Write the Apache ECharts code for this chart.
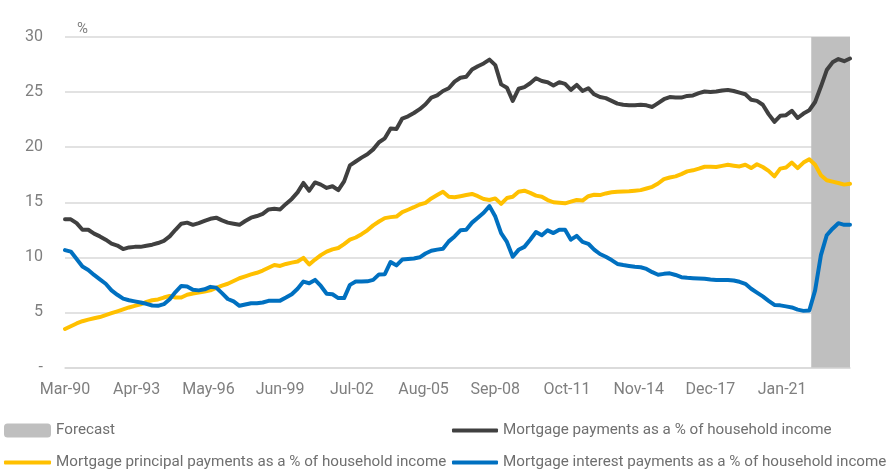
<!DOCTYPE html>
<html>
<head>
<meta charset="utf-8">
<script src="https://cdn.jsdelivr.net/npm/echarts@6/dist/echarts.min.js"></script>
<style>
html,body{margin:0;padding:0;background:#fff;}
#chart{width:892px;height:474px;}
</style>
</head>
<body>
<div id="chart"></div>
<script>
// Quarterly observations starting Mar-90 (every 3 months), ending Dec-23
const startYear = 1990;
const startMonthIdx = 2; // March
const stepMonths = 3;
const monthNames = ['Jan','Feb','Mar','Apr','May','Jun','Jul','Aug','Sep','Oct','Nov','Dec'];
const labelEveryMonths = 37;
const lastMonth = 405;
const forecastStartMonth = 385;

const totalPayments = [
13.45,13.45,13.1,12.5,12.5,12.15,11.9,11.6,11.25,11.07,10.75,10.9,10.95,10.95,11.05,11.15,11.3,11.5,11.9,12.5,
13.05,13.15,12.95,13.1,13.3,13.5,13.6,13.35,13.15,13.05,12.95,13.3,13.6,13.75,13.95,14.35,14.4,14.35,14.85,15.3,
15.9,16.75,16.05,16.8,16.6,16.3,16.45,16.1,16.9,18.35,18.7,19.05,19.35,19.8,20.45,20.8,21.7,21.65,22.6,22.8,
23.1,23.45,23.9,24.5,24.7,25.1,25.35,25.95,26.3,26.4,27.05,27.35,27.6,27.95,27.45,25.7,25.4,24.2,25.3,25.45,
25.8,26.25,26.0,25.9,25.6,25.9,25.75,25.2,25.65,25.1,25.35,24.8,24.55,24.45,24.2,23.95,23.85,23.8,23.8,23.85,
23.8,23.65,24.0,24.35,24.55,24.5,24.5,24.65,24.7,24.9,25.05,25.0,25.05,25.15,25.2,25.1,24.95,24.8,24.3,24.2,
23.85,23.0,22.3,22.85,22.9,23.3,22.65,23.05,23.35,24.1,25.5,27.0,27.7,28.0,27.8,28.05
];
const principalPayments = [
3.5,3.75,4.0,4.2,4.35,4.47,4.58,4.75,4.93,5.1,5.28,5.45,5.6,5.73,5.95,6.1,6.18,6.35,6.5,6.35,
6.35,6.6,6.72,6.8,6.9,7.0,7.22,7.43,7.6,7.85,8.1,8.28,8.45,8.6,8.8,9.05,9.3,9.22,9.4,9.52,
9.62,9.95,9.35,9.8,10.2,10.52,10.72,10.85,11.2,11.6,11.8,12.1,12.45,12.9,13.25,13.56,13.65,13.7,14.1,14.32,
14.55,14.8,14.95,15.35,15.65,15.95,15.5,15.45,15.55,15.65,15.75,15.55,15.3,15.2,15.35,14.85,15.38,15.5,15.95,16.05,
15.85,15.6,15.5,15.2,15.0,14.95,14.9,15.05,15.2,15.15,15.55,15.68,15.65,15.8,15.9,15.95,15.98,16.0,16.05,16.1,
16.25,16.4,16.7,17.1,17.25,17.35,17.55,17.8,17.9,18.05,18.22,18.22,18.2,18.3,18.4,18.32,18.25,18.4,18.1,18.45,
18.2,17.85,17.35,18.05,18.15,18.6,18.1,18.6,18.9,18.4,17.45,17.0,16.87,16.75,16.6,16.68
];
const interestPayments = [
10.66,10.52,9.85,9.16,8.85,8.4,8.0,7.6,7.0,6.6,6.25,6.1,6.0,5.9,5.78,5.63,5.6,5.75,6.2,6.85,
7.4,7.35,7.05,7.0,7.1,7.32,7.25,6.75,6.22,6.0,5.6,5.72,5.83,5.83,5.9,6.05,6.05,6.07,6.35,6.65,
7.15,7.8,7.65,7.95,7.4,6.7,6.65,6.3,6.3,7.5,7.8,7.8,7.82,7.95,8.45,8.47,9.58,9.27,9.8,9.85,
9.9,10.0,10.35,10.6,10.7,10.77,11.45,11.9,12.45,12.5,13.15,13.6,14.05,14.65,13.7,12.2,11.4,10.05,10.68,10.95,
11.6,12.3,12.0,12.45,12.2,12.5,12.5,11.6,11.95,11.4,11.23,10.7,10.3,10.05,9.75,9.4,9.3,9.22,9.15,9.1,
8.95,8.65,8.42,8.5,8.55,8.4,8.2,8.14,8.1,8.07,8.05,7.98,7.95,7.95,7.95,7.9,7.78,7.6,7.15,6.8,
6.45,6.05,5.68,5.64,5.55,5.45,5.25,5.14,5.17,7.0,10.2,12.0,12.6,13.1,12.95,12.95
];
const yTicks = [0,5,10,15,20,25,30];

const seriesNames = {
  forecast: 'Forecast',
  total: 'Mortgage payments as a % of household income',
  principal: 'Mortgage principal payments as a % of household income',
  interest: 'Mortgage interest payments as a % of household income'
};
const colors = { forecast:'#bfbfbf', total:'#404040', principal:'#ffc000', interest:'#0070c0' };

function toPairs(arr){ return arr.map((v,i)=>[i*stepMonths, v]); }
function monthLabel(m){
  const t = startMonthIdx + m;
  const mo = monthNames[t % 12];
  const yr = (startYear + Math.floor(t/12)) % 100;
  return mo + '-' + (yr < 10 ? '0' + yr : '' + yr);
}

const chart = echarts.init(document.getElementById('chart'), null, {renderer:'canvas'});
const font = 'Roboto';
const legendText = {color:'#6f6f6f', fontSize:15.2, fontFamily:font};
function lineSeries(key, arr, z){
  return {
    name: seriesNames[key], type:'line', data: toPairs(arr), showSymbol:false, symbol:'none',
    smooth:false, z: z,
    lineStyle:{color:colors[key], width:4, cap:'round', join:'round'},
    itemStyle:{color:colors[key]}
  };
}
chart.setOption({
  animation:false,
  grid:{left:65, right:42, top:37, bottom:106.5},
  xAxis:{
    type:'value', min:0, max:lastMonth, interval:labelEveryMonths,
    axisLine:{show:true, lineStyle:{color:'#d9d9d9', width:1.5}},
    axisTick:{show:false},
    splitLine:{show:false},
    axisLabel:{
      margin:14, color:'#7f7f7f', fontSize:16, fontFamily:font,
      showMaxLabel:false,
      formatter:function(v){ return (v % labelEveryMonths === 0 && v <= 370) ? monthLabel(v) : ''; }
    }
  },
  yAxis:{
    type:'value', min:yTicks[0], max:yTicks[yTicks.length-1], interval:5,
    name:'%', nameLocation:'end', nameGap:0,
    nameTextStyle:{color:'#7f7f7f', fontSize:15, fontFamily:font, align:'left', padding:[0,0,0,12]},
    axisLine:{show:false}, axisTick:{show:false},
    splitLine:{lineStyle:{color:'#d9d9d9', width:1.5}},
    axisLabel:{margin:22, color:'#7f7f7f', fontSize:16, fontFamily:font,
      formatter:function(v){ return v === 0 ? '-' : String(v); }}
  },
  legend:[
    {data:[{name:seriesNames.forecast, icon:'roundRect'}], left:4, top:423, itemWidth:47, itemHeight:14, itemGap:0, textStyle:legendText, padding:0, selectedMode:false},
    {data:[{name:seriesNames.principal, icon:'roundRect'}], left:4, top:455, itemWidth:47, itemHeight:4, textStyle:legendText, padding:0, selectedMode:false},
    {data:[{name:seriesNames.total, icon:'roundRect'}], left:452, top:423, itemWidth:46, itemHeight:4, textStyle:legendText, padding:0, selectedMode:false},
    {data:[{name:seriesNames.interest, icon:'roundRect'}], left:452, top:455, itemWidth:46, itemHeight:4, textStyle:legendText, padding:0, selectedMode:false}
  ],
  series:[
    {
      name:seriesNames.forecast, type:'line', data:[], itemStyle:{color:colors.forecast},
      lineStyle:{color:colors.forecast},
      markArea:{silent:true, itemStyle:{color:colors.forecast, opacity:1},
        data:[[{xAxis:forecastStartMonth},{xAxis:lastMonth}]]}
    },
    lineSeries('principal', principalPayments, 3),
    lineSeries('total', totalPayments, 4),
    lineSeries('interest', interestPayments, 5)
  ]
});
</script>
</body>
</html>
